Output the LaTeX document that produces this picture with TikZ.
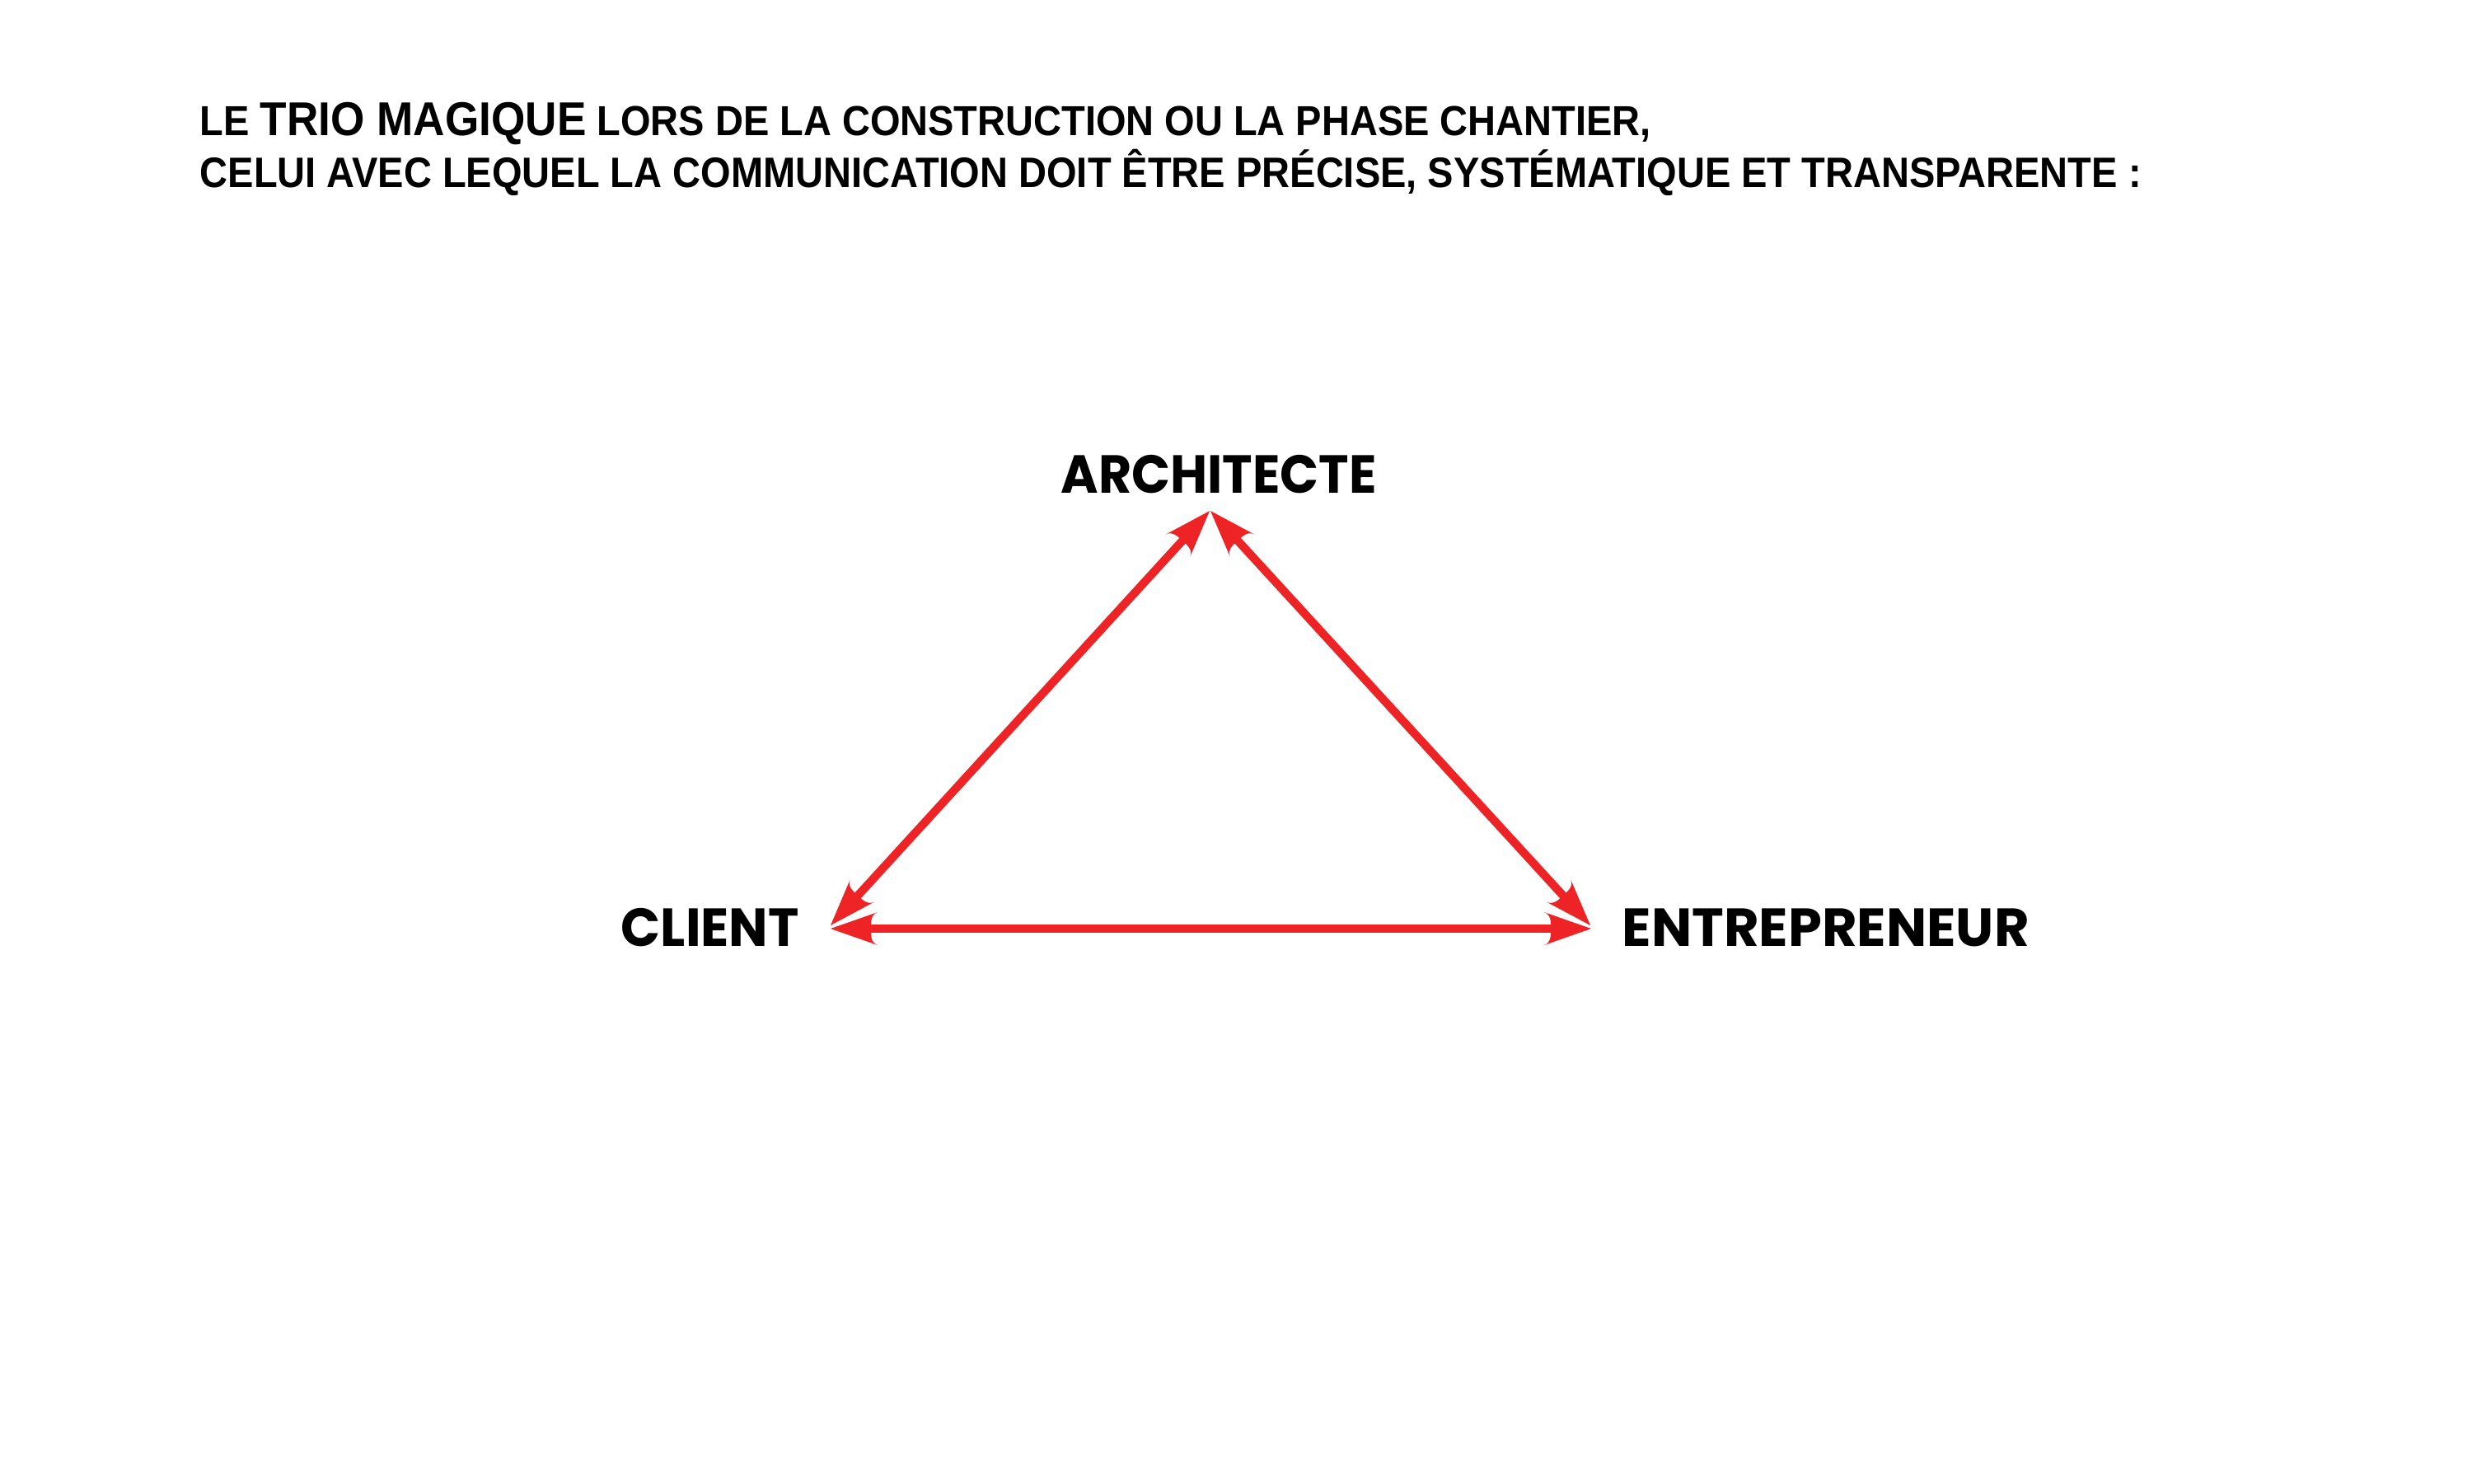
\documentclass[tikz,border=0pt]{standalone}
\usepackage{fontspec}
\usepackage{graphicx}
\usetikzlibrary{arrows.meta}
\newfontfamily\titlefont{Liberation Sans}
\newfontfamily\labelfont{Poppins}
\definecolor{trioRed}{HTML}{EE2326}
\pgfdeclarearrow{
  name = Spear,
  parameters = {\the\pgfarrowlength,\the\pgfarrowwidth},
  setup code = {
    \pgfarrowssettipend{0pt}
    \pgfarrowssetbackend{-\pgfarrowlength}
    \pgfarrowssetlineend{-0.7\pgfarrowlength}
    \pgfarrowssavethe\pgfarrowlength
    \pgfarrowssavethe\pgfarrowwidth
  },
  drawing code = {
    \pgfpathmoveto{\pgfpoint{0pt}{0pt}}
    \pgfpathlineto{\pgfpoint{-\pgfarrowlength}{0.5\pgfarrowwidth}}
    \pgfpathcurveto{\pgfpoint{-0.84\pgfarrowlength}{0.42\pgfarrowwidth}}
                   {\pgfpoint{-0.86\pgfarrowlength}{0.15\pgfarrowwidth}}
                   {\pgfpoint{-0.86\pgfarrowlength}{0pt}}
    \pgfpathcurveto{\pgfpoint{-0.86\pgfarrowlength}{-0.15\pgfarrowwidth}}
                   {\pgfpoint{-0.84\pgfarrowlength}{-0.42\pgfarrowwidth}}
                   {\pgfpoint{-\pgfarrowlength}{-0.5\pgfarrowwidth}}
    \pgfpathclose
    \pgfusepathqfill
  },
  defaults = {length=0.57cm, width=0.40cm}
}
\tikzset{
  titleline/.style={anchor=base west, inner sep=0pt, font=\titlefont\bfseries},
  rolelabel/.style={anchor=base west, inner sep=0pt, font=\labelfont\bfseries},
  link/.style={draw=trioRed, line width=0.10cm, {Spear[length=0.57cm,width=0.40cm]}-{Spear[length=0.57cm,width=0.40cm]}}
}
\begin{document}
\begin{tikzpicture}
\fill[white] (0,0) rectangle (30,-18);
\useasboundingbox (0,0) rectangle (30,-18);
% title
\node[titleline] (t1) at (2.42,-1.64) {\resizebox{17.61cm}{\height}{\fontsize{14.5}{17}\selectfont LE {\fontsize{16.4}{19}\selectfont TRIO MAGIQUE} LORS DE LA CONSTRUCTION OU LA PHASE CHANTIER,}};
\node[titleline] (t2) at (2.42,-2.27) {\resizebox{23.56cm}{\height}{\fontsize{14.7}{17}\selectfont CELUI AVEC LEQUEL LA COMMUNICATION DOIT ÊTRE PRÉCISE, SYSTÉMATIQUE ET TRANSPARENTE :}};
% labels
\node[rolelabel] (arch) at (12.87,-5.98) {\resizebox{3.83cm}{\height}{\fontsize{18.5}{22}\selectfont ARCHITECTE}};
\node[rolelabel] (client) at (7.53,-11.48) {\resizebox{2.16cm}{\height}{\fontsize{18.5}{22}\selectfont CLIENT}};
\node[rolelabel] (entr) at (19.68,-11.48) {\resizebox{4.94cm}{\height}{\fontsize{18.5}{22}\selectfont ENTREPRENEUR}};
% arrow end points
\coordinate (apexL) at (14.68,-6.20);
\coordinate (apexR) at (14.69,-6.20);
\coordinate (clD) at (10.08,-11.23);
\coordinate (clH) at (10.08,-11.27);
\coordinate (enD) at (19.30,-11.23);
\coordinate (enH) at (19.31,-11.27);
\draw[link] (clD) -- (apexL);
\draw[link] (enD) -- (apexR);
\draw[link] (clH) -- (enH);
\end{tikzpicture}
\end{document}
